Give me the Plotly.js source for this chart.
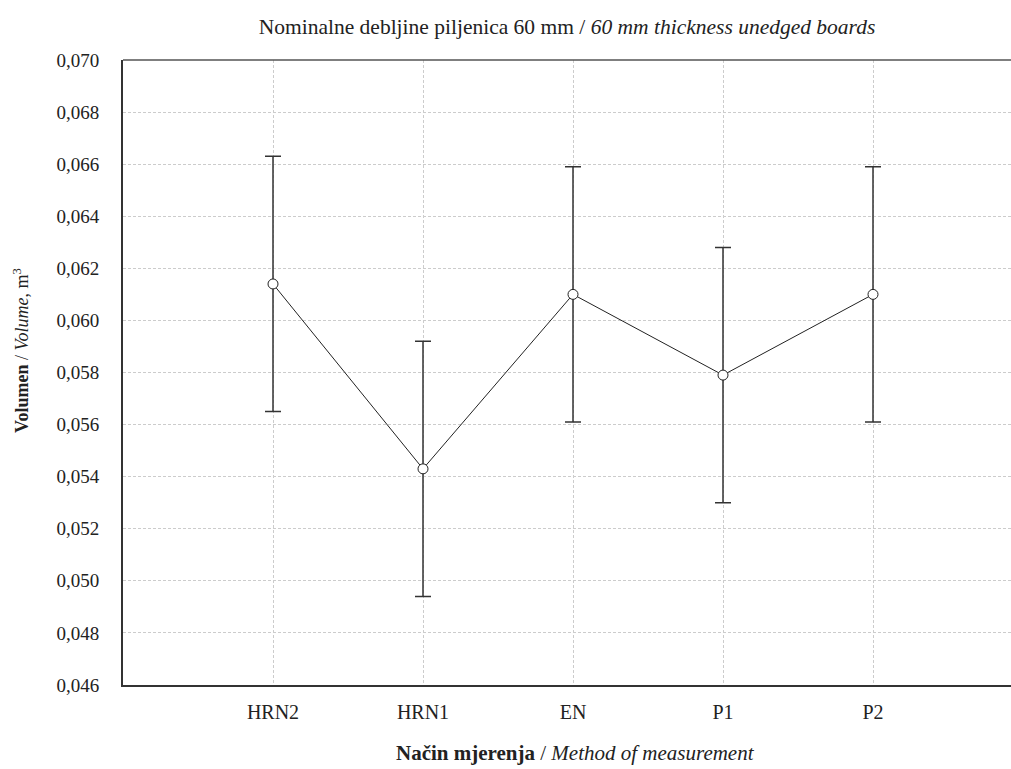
<!DOCTYPE html>
<html>
<head>
<meta charset="utf-8">
<script src="https://cdn.plot.ly/plotly-3.0.1.min.js"></script>
<style>html,body{margin:0;padding:0;background:#fff;}#chart{width:1011px;height:769px;}</style>
</head>
<body>
<div id="chart"></div>
<script>
const categories = ["HRN2", "HRN1", "EN", "P1", "P2"];
const meanVolume = [0.0614, 0.0543, 0.0610, 0.0579, 0.0610];
const errorPlus = [0.0049, 0.0049, 0.0049, 0.0049, 0.0049];
const errorMinus = [0.0049, 0.0049, 0.0049, 0.0049, 0.0049];
const yTickValues = [0.046, 0.048, 0.050, 0.052, 0.054, 0.056, 0.058, 0.060, 0.062, 0.064, 0.066, 0.068, 0.070];

const xIdx = categories.map((c, i) => i);
const FONT = "Liberation Serif";

const trace = {
  x: xIdx,
  y: meanVolume,
  type: "scatter",
  mode: "lines+markers",
  line: {color: "#222", width: 1},
  marker: {symbol: "circle", size: 10, color: "#fff", line: {color: "#222", width: 1}},
  error_y: {type: "data", symmetric: false, array: errorPlus, arrayminus: errorMinus, color: "#333", thickness: 1.5, width: 8},
  hoverinfo: "skip"
};

const layout = {
  width: 1011, height: 769,
  margin: {l: 123, r: 0, t: 60, b: 84},
  paper_bgcolor: "#fff", plot_bgcolor: "#fff",
  separators: ",.",
  showlegend: false,
  font: {family: FONT, color: "#222"},
  title: {
    text: "Nominalne debljine piljenica 60 mm / <i>60 mm thickness unedged boards</i>",
    font: {family: FONT, size: 21.5, color: "#222"},
    x: 0.5, xref: "paper", y: 0.966, yref: "container", xanchor: "center", yanchor: "middle"
  },
  xaxis: {
    range: [-1, 4.92],
    tickvals: xIdx, ticktext: categories,
    tickfont: {family: FONT, size: 20, color: "#222"},
    showgrid: true, gridcolor: "#cccccc", griddash: "3px,2px", gridwidth: 1,
    zeroline: false, showline: true, linecolor: "#333", linewidth: 2,
    ticks: "", ticklabelstandoff: 8, automargin: false
  },
  yaxis: {
    range: [0.046, 0.070],
    tickvals: yTickValues, tickformat: ".3f",
    tickfont: {family: FONT, size: 19, color: "#222"},
    showgrid: true, gridcolor: "#cccccc", griddash: "3px,2px", gridwidth: 1,
    zeroline: false, showline: true, linecolor: "#333", linewidth: 2,
    ticks: "", ticklabelstandoff: 18, automargin: false
  },
  annotations: [
    {text: "<b>Način mjerenja</b> / <i>Method of measurement</i>", xref: "paper", yref: "paper",
     x: 0.51, y: -0.109, xanchor: "center", yanchor: "middle", showarrow: false,
     font: {family: FONT, size: 21, color: "#222"}},
    {text: "<b>Volumen</b> / <i>Volume</i>, m<sup>3</sup>", xref: "paper", yref: "paper",
     x: -0.115, y: 0.536, xanchor: "center", yanchor: "middle", textangle: -90, showarrow: false,
     font: {family: FONT, size: 18, color: "#222"}}
  ],
  shapes: [
    {type: "line", xref: "paper", yref: "paper", x0: 0, x1: 1, y0: 1, y1: 1, line: {color: "#555", width: 1.5}}
  ]
};

Plotly.newPlot("chart", [trace], layout, {displayModeBar: false, staticPlot: true});
</script>
</body>
</html>
